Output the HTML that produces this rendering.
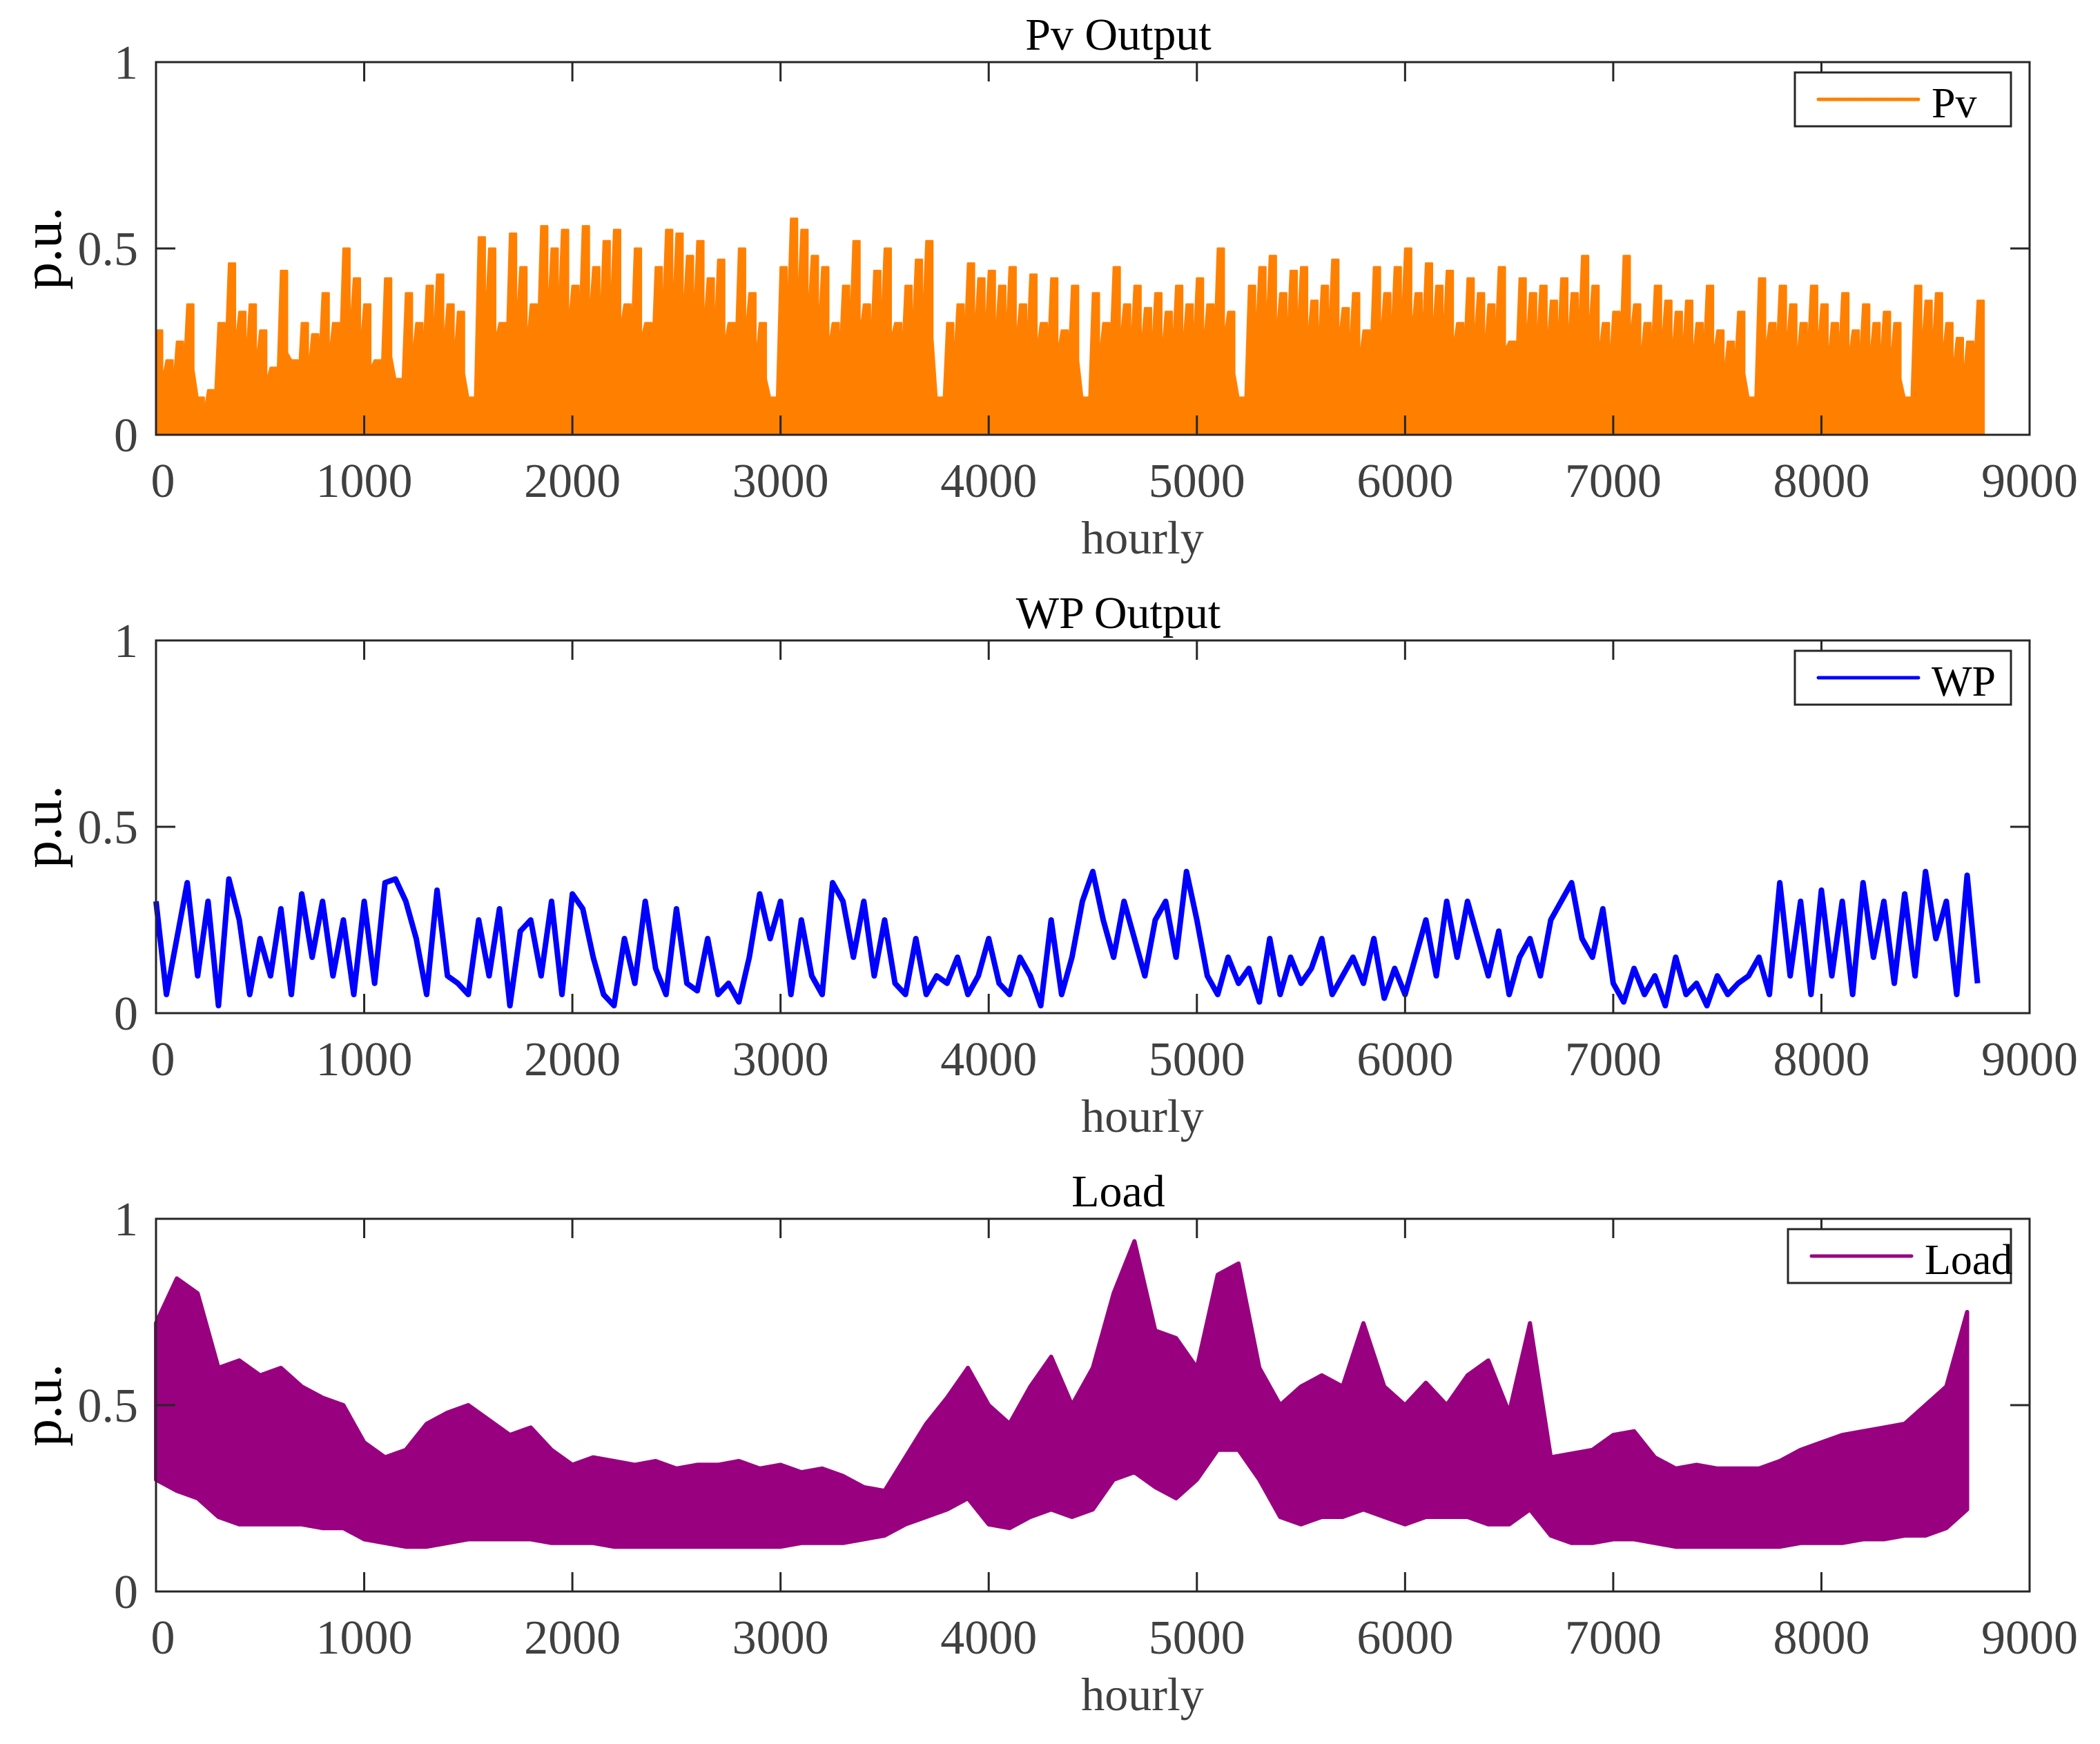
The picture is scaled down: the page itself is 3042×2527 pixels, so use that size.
<!DOCTYPE html>
<html><head><meta charset="utf-8"><style>
html,body{margin:0;padding:0;background:#fff;}
svg{display:block;font-family:"Liberation Serif",serif;}
</style></head><body>
<svg id="fig" width="3042" height="2527" viewBox="0 0 3042 2527" xmlns="http://www.w3.org/2000/svg"></svg>
<script>
const xTicks=[0,1000,2000,3000,4000,5000,6000,7000,8000,9000];
const yTicks=[0,0.5,1];
const pvStep=50;
const pvValues=[0.28,0.2,0.25,0.35,0.1,0.12,0.3,0.46,0.33,0.35,0.28,0.18,0.44,0.2,0.3,0.27,0.38,0.3,0.5,0.42,
0.35,0.2,0.42,0.15,0.38,0.3,0.4,0.43,0.35,0.33,0.1,0.53,0.5,0.3,0.54,0.45,0.35,0.56,0.5,0.55,
0.4,0.56,0.45,0.52,0.55,0.35,0.5,0.3,0.45,0.55,0.54,0.48,0.52,0.42,0.47,0.3,0.5,0.38,0.3,0.1,
0.45,0.58,0.55,0.48,0.45,0.3,0.4,0.52,0.35,0.44,0.5,0.3,0.4,0.47,0.52,0.1,0.3,0.35,0.46,0.42,
0.44,0.4,0.45,0.35,0.43,0.3,0.42,0.28,0.4,0.1,0.38,0.3,0.45,0.35,0.4,0.34,0.38,0.33,0.4,0.35,
0.42,0.35,0.5,0.33,0.1,0.4,0.45,0.48,0.38,0.44,0.45,0.36,0.4,0.47,0.34,0.38,0.28,0.45,0.38,0.45,
0.5,0.38,0.46,0.4,0.44,0.3,0.42,0.38,0.35,0.45,0.25,0.42,0.38,0.4,0.36,0.42,0.38,0.48,0.4,0.3,
0.33,0.48,0.35,0.3,0.4,0.36,0.33,0.36,0.3,0.4,0.28,0.25,0.33,0.1,0.42,0.3,0.4,0.35,0.3,0.4,
0.35,0.3,0.38,0.28,0.35,0.3,0.33,0.3,0.1,0.4,0.36,0.38,0.3,0.26,0.25,0.36];
const wpStep=50;
const wpValues=[0.3,0.05,0.2,0.35,0.1,0.3,0.02,0.36,0.25,0.05,0.2,0.1,0.28,0.05,0.32,0.15,0.3,0.1,0.25,0.05,
0.3,0.08,0.35,0.36,0.3,0.2,0.05,0.33,0.1,0.08,0.05,0.25,0.1,0.28,0.02,0.22,0.25,0.1,0.3,0.05,
0.32,0.28,0.15,0.05,0.02,0.2,0.08,0.3,0.12,0.05,0.28,0.08,0.06,0.2,0.05,0.08,0.03,0.15,0.32,0.2,
0.3,0.05,0.25,0.1,0.05,0.35,0.3,0.15,0.3,0.1,0.25,0.08,0.05,0.2,0.05,0.1,0.08,0.15,0.05,0.1,
0.2,0.08,0.05,0.15,0.1,0.02,0.25,0.05,0.15,0.3,0.38,0.25,0.15,0.3,0.2,0.1,0.25,0.3,0.15,0.38,
0.25,0.1,0.05,0.15,0.08,0.12,0.03,0.2,0.05,0.15,0.08,0.12,0.2,0.05,0.1,0.15,0.08,0.2,0.04,0.12,
0.05,0.15,0.25,0.1,0.3,0.15,0.3,0.2,0.1,0.22,0.05,0.15,0.2,0.1,0.25,0.3,0.35,0.2,0.15,0.28,
0.08,0.03,0.12,0.05,0.1,0.02,0.15,0.05,0.08,0.02,0.1,0.05,0.08,0.1,0.15,0.05,0.35,0.1,0.3,0.05,
0.33,0.1,0.3,0.05,0.35,0.15,0.3,0.08,0.32,0.1,0.38,0.2,0.3,0.05,0.37,0.08];
const loadStep=100;
const loadHigh=[0.72,0.84,0.8,0.6,0.62,0.58,0.6,0.55,0.52,0.5,
0.4,0.36,0.38,0.45,0.48,0.5,0.46,0.42,0.44,0.38,
0.34,0.36,0.35,0.34,0.35,0.33,0.34,0.34,0.35,0.33,
0.34,0.32,0.33,0.31,0.28,0.27,0.36,0.45,0.52,0.6,
0.5,0.45,0.55,0.63,0.5,0.6,0.8,0.94,0.7,0.68,
0.6,0.85,0.88,0.6,0.5,0.55,0.58,0.55,0.72,0.55,
0.5,0.56,0.5,0.58,0.62,0.48,0.72,0.36,0.37,0.38,
0.42,0.43,0.36,0.33,0.34,0.33,0.33,0.33,0.35,0.38,
0.4,0.42,0.43,0.44,0.45,0.5,0.55,0.75];
const loadLow=[0.3,0.27,0.25,0.2,0.18,0.18,0.18,0.18,0.17,0.17,
0.14,0.13,0.12,0.12,0.13,0.14,0.14,0.14,0.14,0.13,
0.13,0.13,0.12,0.12,0.12,0.12,0.12,0.12,0.12,0.12,
0.12,0.13,0.13,0.13,0.14,0.15,0.18,0.2,0.22,0.25,
0.18,0.17,0.2,0.22,0.2,0.22,0.3,0.32,0.28,0.25,
0.3,0.38,0.38,0.3,0.2,0.18,0.2,0.2,0.22,0.2,
0.18,0.2,0.2,0.2,0.18,0.18,0.22,0.15,0.13,0.13,
0.14,0.14,0.13,0.12,0.12,0.12,0.12,0.12,0.12,0.13,
0.13,0.13,0.14,0.14,0.15,0.15,0.17,0.22];

const NS="http://www.w3.org/2000/svg";
const svg=document.getElementById('fig');
const X0=226,X1=2940,XMAX=9000,PH=540;
function xs(v){return X0+v*(X1-X0)/XMAX;}
function mk(tag,attrs,parent){const e=document.createElementNS(NS,tag);for(const k in attrs)e.setAttribute(k,attrs[k]);(parent||svg).appendChild(e);return e;}
function txt(s,attrs,parent){const e=mk('text',attrs,parent);e.textContent=s;return e;}

function panel(bottom,title,key,color,legendLeft,draw){
  const top=bottom-PH;
  const ys=v=>bottom-v*PH;
  const g=mk('g',{});
  
  
  const sg=mk('g',{},g);
  
  
  draw(sg,ys);
  const box=mk('rect',{x:X0,y:top,width:X1-X0,height:PH,fill:'none',stroke:'#262626','stroke-width':3},g);
  
  
  xTicks.forEach(t=>{
    const x=xs(t);
    mk('line',{x1:x,x2:x,y1:bottom,y2:bottom-28,stroke:'#262626','stroke-width':3},g);
    mk('line',{x1:x,x2:x,y1:top,y2:top+28,stroke:'#262626','stroke-width':3},g);
    const l=txt(String(t),{x:x+(t===0?10:0),y:bottom+90,'font-size':70,fill:'#404040','text-anchor':'middle'},g);
    
    
  });
  yTicks.forEach(t=>{
    const y=ys(t);
    mk('line',{x1:X0,x2:X0+28,y1:y,y2:y,stroke:'#262626','stroke-width':3},g);
    mk('line',{x1:X1,x2:X1-28,y1:y,y2:y,stroke:'#262626','stroke-width':3},g);
    const l=txt(String(t),{x:200,y:y+24,'font-size':70,fill:'#404040','text-anchor':'end'},g);
    
    
  });
  const ti=txt(title,{x:1620,y:top-18,'font-size':66,fill:'#000','text-anchor':'middle'},g);
  
  
  const xl=txt('hourly',{x:1655,y:bottom+172,'font-size':68,fill:'#404040','text-anchor':'middle'},g);
  
  
  const yl=txt('p.u.',{x:0,y:0,'font-size':80,fill:'#000','text-anchor':'middle',transform:`translate(88,${top+PH/2}) rotate(-90)`},g);
  
  
  const lg=mk('g',{},g);
  
  
  mk('rect',{x:legendLeft,y:top+15,width:2913-legendLeft,height:78,fill:'#fff',stroke:'#262626','stroke-width':3},lg);
  mk('line',{x1:legendLeft+34,x2:legendLeft+179,y1:top+54,y2:top+54,stroke:color,'stroke-width':5,'stroke-linecap':'round'},lg);
  txt(key==='load'?'Load':key==='pv'?'Pv':'WP',{x:legendLeft+198,y:top+80,'font-size':62,fill:'#000'},lg);
}

panel(630,'Pv Output','pv','#FF8000',2600,(g,ys)=>{
  let d=`M${xs(0)},${ys(0)}`;
  pvValues.forEach((v,i)=>{const x=xs(i*pvStep);d+=` L${x},${ys(v)} L${xs(i*pvStep+pvStep*0.6)},${ys(v)} L${xs(i*pvStep+pvStep*0.6)},${ys(v*0.5)}`;});
  d+=` L${xs((pvValues.length-1)*pvStep+pvStep*0.6)},${ys(0)} Z`;
  const p=mk('path',{d:d,fill:'#FF8000',stroke:'#FF8000','stroke-width':3,'stroke-linejoin':'round'},g);
  
  
});
panel(1468,'WP Output','wp','#0000FF',2600,(g,ys)=>{
  const pts=wpValues.map((v,i)=>`${xs(i*wpStep)},${ys(v)}`).join(' ');
  const p=mk('polyline',{points:pts,fill:'none',stroke:'#0000FF','stroke-width':8,'stroke-linejoin':'round'},g);
  
  
});
panel(2306,'Load','load','#990080',2590,(g,ys)=>{
  let up=loadHigh.map((v,i)=>`${xs(i*loadStep)},${ys(v)}`);
  let lo=loadLow.map((v,i)=>`${xs(i*loadStep)},${ys(v)}`).reverse();
  const p=mk('polygon',{points:up.concat(lo).join(' '),fill:'#990080',stroke:'#990080','stroke-width':6,'stroke-linejoin':'round'},g);
  
  
});
</script>
</body></html>
